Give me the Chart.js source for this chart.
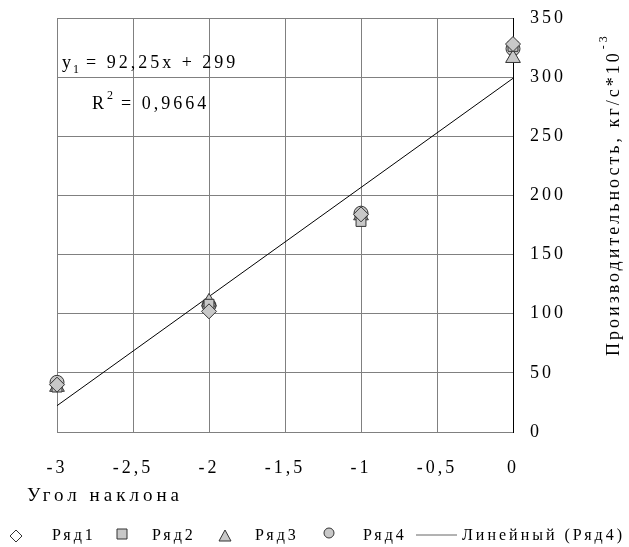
<!DOCTYPE html>
<html lang="ru">
<head>
<meta charset="UTF-8" />
<title>Производительность</title>
<script src="https://cdn.jsdelivr.net/npm/chart.js"></script>
<style>
  html, body { margin: 0; padding: 0; background: #fff; }
  #wrap { width: 629px; height: 547px; }
</style>
</head>
<body>
<div id="wrap"><canvas id="chart" width="629" height="547"></canvas></div>
<script>
// angle values (x)
const angles = [-3, -2, -1, 0];
// series values
const row1 = [40, 102, 184, 328];
const row2 = [38, 108, 178, 326];
const row3 = [38, 110, 183, 316];
const row4 = [42, 107, 185, 324];
// trendline end points (y1 = 92,25x + 299)
const trendX = [-3, 0];
const trendY = [22.25, 299];

const seriesNames = ["Ряд1", "Ряд2", "Ряд3", "Ряд4"];
const trendName = "Линейный (Ряд4)";
const xTitle = "Угол наклона";
const yTitle = "Производительность, кг/с*10";
const eqText = "= 92,25x + 299";
const r2Text = "= 0,9664";

const FONT = "'Liberation Serif', 'Times New Roman', serif";
const fill = "#c8c8c8";
const edge = "#333333";
const SPACING = "3px";

const toPts = ys => angles.map((x, i) => ({ x: x, y: ys[i] }));

// extra text: equation, titles, legend
const textPlugin = {
    id: "texts",
    beforeLayout(chart) { chart.ctx.letterSpacing = SPACING; },
    beforeDraw(chart) { chart.ctx.letterSpacing = SPACING; },
    afterDraw(chart) {
        const ctx = chart.ctx;
        ctx.save();
        ctx.letterSpacing = SPACING;
        ctx.fillStyle = "#000";
        ctx.textBaseline = "alphabetic";

        // regression equation
        ctx.font = "18px " + FONT;
        ctx.fillText("y", 62, 68);
        ctx.font = "12px " + FONT;
        ctx.fillText("1", 73, 73);
        ctx.font = "18px " + FONT;
        ctx.fillText(eqText, 86, 68);
        ctx.fillText("R", 92, 109);
        ctx.font = "12px " + FONT;
        ctx.fillText("2", 107, 99);
        ctx.font = "18px " + FONT;
        ctx.fillText(r2Text, 121, 109);

        // x title
        ctx.letterSpacing = "4px";
        ctx.font = "19px " + FONT;
        ctx.fillText(xTitle, 27, 501);
        ctx.letterSpacing = SPACING;

        // y title, rotated
        ctx.save();
        ctx.translate(619, 356);
        ctx.rotate(-Math.PI / 2);
        ctx.font = "18px " + FONT;
        ctx.fillText(yTitle, 0, 0);
        const w = ctx.measureText(yTitle).width;
        ctx.font = "12px " + FONT;
        ctx.fillText("-3", w + 1, -12);
        ctx.restore();

        // legend
        const ly = 536;
        ctx.font = "16px " + FONT;
        ctx.textBaseline = "middle";
        ctx.lineWidth = 1;
        ctx.strokeStyle = edge;
        const marks = ["rectRot", "rect", "triangle", "circle"];
        const mx = [16, 122, 225, 329];
        const tx = [52, 152, 255, 363];
        marks.forEach((m, i) => {
            const x = mx[i];
            ctx.beginPath();
            if (m === "rectRot") {
                ctx.moveTo(x, ly - 6); ctx.lineTo(x + 6, ly); ctx.lineTo(x, ly + 6); ctx.lineTo(x - 6, ly); ctx.closePath();
                ctx.fillStyle = "#fff";
            } else if (m === "rect") {
                ctx.rect(x - 5, ly - 7, 10, 10);
                ctx.fillStyle = fill;
            } else if (m === "triangle") {
                ctx.moveTo(x, ly - 6); ctx.lineTo(x + 6, ly + 5); ctx.lineTo(x - 6, ly + 5); ctx.closePath();
                ctx.fillStyle = fill;
            } else {
                ctx.arc(x, ly - 3, 5, 0, Math.PI * 2);
                ctx.fillStyle = fill;
            }
            ctx.fill();
            ctx.stroke();
            ctx.fillStyle = "#000";
            ctx.fillText(seriesNames[i], tx[i], ly);
        });
        ctx.strokeStyle = "#666";
        ctx.beginPath();
        ctx.moveTo(416, ly - 1);
        ctx.lineTo(457, ly - 1);
        ctx.stroke();
        ctx.fillStyle = "#000";
        ctx.fillText(trendName, 462, ly);
        ctx.restore();
    }
};

const marker = (style, r) => ({
    type: "scatter",
    pointStyle: style,
    pointRadius: r,
    pointHoverRadius: r,
    pointBackgroundColor: fill,
    pointBorderColor: edge,
    pointBorderWidth: 1,
    clip: false
});

new Chart(document.getElementById("chart"), {
    data: {
        datasets: [
            Object.assign({ label: seriesNames[0], data: toPts(row1) }, marker("rectRot", 7.5)),
            Object.assign({ label: seriesNames[1], data: toPts(row2) }, marker("rect", 7)),
            Object.assign({ label: seriesNames[2], data: toPts(row3) }, marker("triangle", 8.5)),
            Object.assign({ label: seriesNames[3], data: toPts(row4) }, marker("circle", 7)),
            {
                type: "line",
                label: trendName,
                data: trendX.map((x, i) => ({ x: x, y: trendY[i] })),
                borderColor: "#000",
                borderWidth: 1,
                pointRadius: 0,
                fill: false
            }
        ]
    },
    options: {
        responsive: false,
        animation: false,
        events: [],
        layout: { padding: { left: 57, top: 18, right: 0, bottom: 0 } },
        plugins: {
            legend: { display: false },
            tooltip: { enabled: false }
        },
        scales: {
            x: {
                type: "linear",
                min: -3,
                max: 0,
                grid: { color: "#808080", drawTicks: false },
                border: { display: false },
                ticks: {
                    stepSize: 0.5,
                    padding: 25,
                    color: "#000",
                    font: { family: FONT, size: 18 },
                    callback: v => String(v).replace(".", ",")
                },
                afterFit: s => { s.height = 115; s.paddingLeft = 0; s.paddingRight = 0; }
            },
            y: {
                position: "right",
                min: 0,
                max: 350,
                grid: { color: "#808080", drawTicks: false },
                border: { color: "#000", width: 1 },
                ticks: {
                    stepSize: 50,
                    padding: 17,
                    color: "#000",
                    font: { family: FONT, size: 18 }
                },
                afterFit: s => { s.width = 116; s.paddingTop = 0; s.paddingBottom = 0; }
            }
        }
    },
    plugins: [textPlugin]
});
</script>
</body>
</html>
